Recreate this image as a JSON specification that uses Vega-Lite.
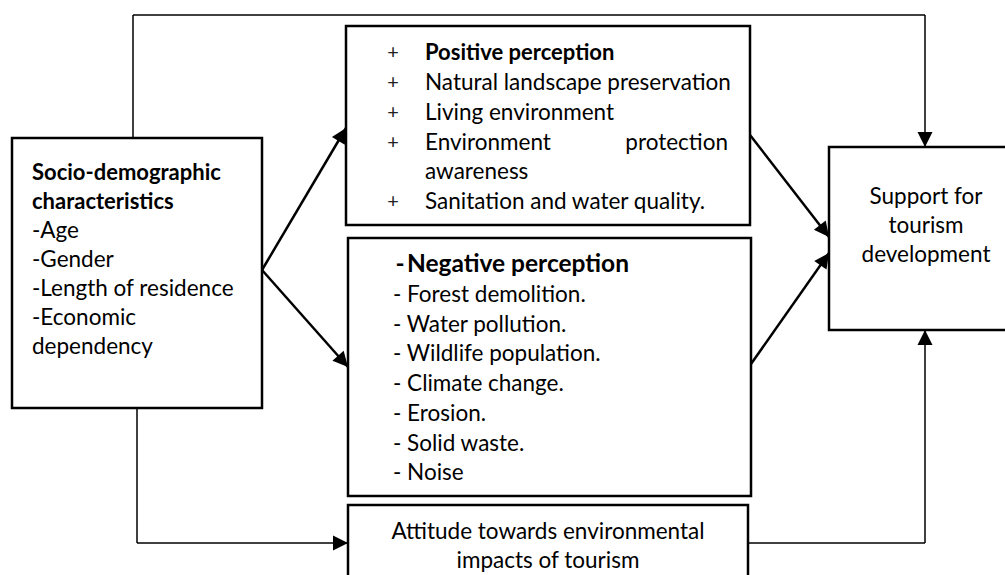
{
  "$schema": "https://vega.github.io/schema/vega-lite/v6.json",
  "width": 1005,
  "height": 575,
  "padding": 0,
  "autosize": {"type": "fit", "contains": "padding"},
  "background": "white",
  "config": {"view": {"stroke": null}, "text": {"font": "Lato", "color": "black"}},
  "datasets": {
    "boxes": [
      {"name": "Socio-demographic characteristics", "left": 12, "top": 138, "right": 262, "bottom": 408},
      {"name": "Positive perception", "left": 346, "top": 26, "right": 750, "bottom": 225},
      {"name": "Negative perception", "left": 348, "top": 238, "right": 751, "bottom": 496},
      {"name": "Attitude towards environmental impacts of tourism", "left": 348, "top": 505, "right": 748, "bottom": 592},
      {"name": "Support for tourism development", "left": 829, "top": 147, "right": 1014, "bottom": 330}
    ],
    "links": [
      {"kind": "elbow", "x": 133, "y": 138, "x2": 133, "y2": 15, "head": false},
      {"kind": "elbow", "x": 133, "y": 15, "x2": 925, "y2": 15, "head": false},
      {"kind": "elbow", "x": 925, "y": 15, "x2": 925, "y2": 147, "head": true},
      {"kind": "elbow", "x": 137, "y": 408, "x2": 137, "y2": 543, "head": false},
      {"kind": "elbow", "x": 137, "y": 543, "x2": 348, "y2": 543, "head": true},
      {"kind": "elbow", "x": 748, "y": 543, "x2": 925, "y2": 543, "head": false},
      {"kind": "elbow", "x": 925, "y": 543, "x2": 925, "y2": 330, "head": true},
      {"kind": "direct", "x": 262, "y": 270, "x2": 346, "y2": 128, "head": true},
      {"kind": "direct", "x": 262, "y": 270, "x2": 348, "y2": 367, "head": true},
      {"kind": "direct", "x": 750, "y": 135, "x2": 829, "y2": 237, "head": true},
      {"kind": "direct", "x": 751, "y": 364, "x2": 829, "y2": 253, "head": true}
    ],
    "labels": [
      {"kind": "title", "text": "Socio-demographic", "x": 32, "y": 173},
      {"kind": "title", "text": "characteristics", "x": 32, "y": 202},
      {"kind": "item", "text": "-Age", "x": 32, "y": 231},
      {"kind": "item", "text": "-Gender", "x": 32, "y": 260},
      {"kind": "item", "text": "-Length of residence", "x": 32, "y": 289},
      {"kind": "item", "text": "-Economic", "x": 32, "y": 318},
      {"kind": "item", "text": "dependency", "x": 32, "y": 347},
      {"kind": "plus", "text": "+", "x": 393, "y": 53},
      {"kind": "plus", "text": "+", "x": 393, "y": 83},
      {"kind": "plus", "text": "+", "x": 393, "y": 113},
      {"kind": "plus", "text": "+", "x": 393, "y": 143},
      {"kind": "plus", "text": "+", "x": 393, "y": 202},
      {"kind": "title", "text": "Positive perception", "x": 425, "y": 53},
      {"kind": "item", "text": "Natural landscape preservation", "x": 425, "y": 83},
      {"kind": "item", "text": "Living environment", "x": 425, "y": 113},
      {"kind": "item", "text": "Environment", "x": 425, "y": 143},
      {"kind": "itemEnd", "text": "protection", "x": 728, "y": 143},
      {"kind": "item", "text": "awareness", "x": 425, "y": 172},
      {"kind": "item", "text": "Sanitation and water quality.", "x": 425, "y": 202},
      {"kind": "dash", "text": "-", "x": 400, "y": 265},
      {"kind": "titleLarge", "text": "Negative perception", "x": 407, "y": 265},
      {"kind": "item", "text": "-  Forest demolition.", "x": 393, "y": 295},
      {"kind": "item", "text": "-  Water pollution.", "x": 393, "y": 325},
      {"kind": "item", "text": "-  Wildlife population.", "x": 393, "y": 354},
      {"kind": "item", "text": "-  Climate change.", "x": 393, "y": 384},
      {"kind": "item", "text": "-  Erosion.", "x": 393, "y": 414},
      {"kind": "item", "text": "-  Solid waste.", "x": 393, "y": 444},
      {"kind": "item", "text": "-  Noise", "x": 393, "y": 473},
      {"kind": "centered", "text": "Support for", "x": 926, "y": 197},
      {"kind": "centered", "text": "tourism", "x": 926, "y": 226},
      {"kind": "centered", "text": "development", "x": 926, "y": 255},
      {"kind": "centered", "text": "Attitude towards environmental", "x": 548, "y": 532},
      {"kind": "centered", "text": "impacts of tourism", "x": 548, "y": 561}
    ]
  },
  "layer": [
    {
      "data": {"name": "links"},
      "transform": [{"filter": "datum.kind === 'elbow'"}],
      "mark": {"type": "rule", "color": "black", "strokeWidth": 1.5},
      "encoding": {
        "x": {"field": "x", "type": "quantitative", "scale": {"domain": [0, 1005], "nice": false, "zero": false}, "axis": null},
        "y": {"field": "y", "type": "quantitative", "scale": {"domain": [0, 575], "nice": false, "zero": false, "reverse": true}, "axis": null},
        "x2": {"field": "x2"},
        "y2": {"field": "y2"}
      }
    },
    {
      "data": {"name": "links"},
      "transform": [{"filter": "datum.kind === 'direct'"}],
      "mark": {"type": "rule", "color": "black", "strokeWidth": 2.5},
      "encoding": {
        "x": {"field": "x", "type": "quantitative", "axis": null},
        "y": {"field": "y", "type": "quantitative", "axis": null},
        "x2": {"field": "x2"},
        "y2": {"field": "y2"}
      }
    },
    {
      "data": {"name": "boxes"},
      "mark": {"type": "rect", "fill": "white", "stroke": "black", "strokeWidth": 2.5, "clip": true},
      "encoding": {
        "x": {"field": "left", "type": "quantitative", "axis": null},
        "x2": {"field": "right"},
        "y": {"field": "top", "type": "quantitative", "axis": null},
        "y2": {"field": "bottom"}
      }
    },
    {
      "data": {"name": "links"},
      "transform": [
        {"filter": "datum.head"},
        {"calculate": "atan2(datum.x2 - datum.x, datum.y - datum.y2) * 180 / PI", "as": "heading"}
      ],
      "mark": {"type": "point", "shape": "M0,0L0.5,1L-0.5,1Z", "filled": true, "color": "black", "opacity": 1, "size": 900, "strokeWidth": 0},
      "encoding": {
        "x": {"field": "x2", "type": "quantitative", "axis": null},
        "y": {"field": "y2", "type": "quantitative", "axis": null},
        "angle": {"field": "heading", "type": "quantitative", "scale": null}
      }
    },
    {
      "data": {"name": "labels"},
      "transform": [{"filter": "datum.kind === 'item'"}],
      "mark": {"type": "text", "align": "left", "baseline": "middle", "fontSize": 22.5},
      "encoding": {
        "x": {"field": "x", "type": "quantitative", "axis": null},
        "y": {"field": "y", "type": "quantitative", "axis": null},
        "text": {"field": "text"}
      }
    },
    {
      "data": {"name": "labels"},
      "transform": [{"filter": "datum.kind === 'itemEnd'"}],
      "mark": {"type": "text", "align": "right", "baseline": "middle", "fontSize": 22.5},
      "encoding": {
        "x": {"field": "x", "type": "quantitative", "axis": null},
        "y": {"field": "y", "type": "quantitative", "axis": null},
        "text": {"field": "text"}
      }
    },
    {
      "data": {"name": "labels"},
      "transform": [{"filter": "datum.kind === 'title'"}],
      "mark": {"type": "text", "align": "left", "baseline": "middle", "fontSize": 22, "fontWeight": "bold"},
      "encoding": {
        "x": {"field": "x", "type": "quantitative", "axis": null},
        "y": {"field": "y", "type": "quantitative", "axis": null},
        "text": {"field": "text"}
      }
    },
    {
      "data": {"name": "labels"},
      "transform": [{"filter": "datum.kind === 'titleLarge'"}],
      "mark": {"type": "text", "align": "left", "baseline": "middle", "fontSize": 24.5, "fontWeight": "bold"},
      "encoding": {
        "x": {"field": "x", "type": "quantitative", "axis": null},
        "y": {"field": "y", "type": "quantitative", "axis": null},
        "text": {"field": "text"}
      }
    },
    {
      "data": {"name": "labels"},
      "transform": [{"filter": "datum.kind === 'dash'"}],
      "mark": {"type": "text", "align": "center", "baseline": "middle", "fontSize": 24.5, "fontWeight": "bold"},
      "encoding": {
        "x": {"field": "x", "type": "quantitative", "axis": null},
        "y": {"field": "y", "type": "quantitative", "axis": null},
        "text": {"field": "text"}
      }
    },
    {
      "data": {"name": "labels"},
      "transform": [{"filter": "datum.kind === 'plus'"}],
      "mark": {"type": "text", "align": "center", "baseline": "middle", "fontSize": 20, "color": "#222222"},
      "encoding": {
        "x": {"field": "x", "type": "quantitative", "axis": null},
        "y": {"field": "y", "type": "quantitative", "axis": null},
        "text": {"field": "text"}
      }
    },
    {
      "data": {"name": "labels"},
      "transform": [{"filter": "datum.kind === 'centered'"}],
      "mark": {"type": "text", "align": "center", "baseline": "middle", "fontSize": 22.5},
      "encoding": {
        "x": {"field": "x", "type": "quantitative", "axis": null},
        "y": {"field": "y", "type": "quantitative", "axis": null},
        "text": {"field": "text"}
      }
    }
  ]
}
